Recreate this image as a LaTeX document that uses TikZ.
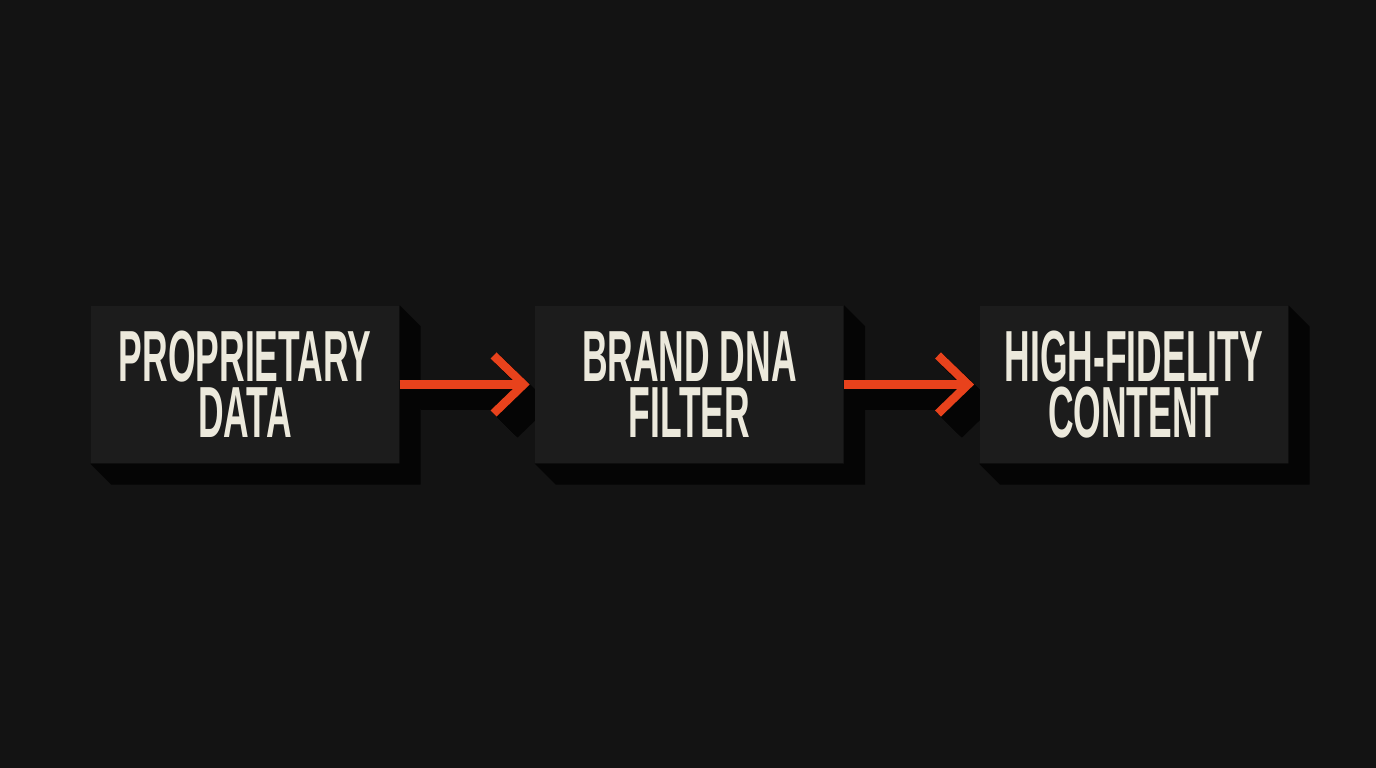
\documentclass[tikz,border=0pt]{standalone}
\usepackage{fontspec}
\usetikzlibrary{positioning,arrows.meta}
\newfontfamily\boxfont[FakeStretch=0.49]{Liberation Sans}
\definecolor{bgblack}{HTML}{131313}
\definecolor{boxgray}{HTML}{1C1C1C}
\definecolor{depthblack}{HTML}{050505}
\definecolor{cream}{HTML}{ECE9DC}
\definecolor{flowred}{HTML}{E8421C}
\pgfdeclarelayer{bg}
\pgfdeclarelayer{depth}
\pgfsetlayers{bg,depth,main}
\tikzset{
  stage/.style={fill=boxgray,text=cream,minimum width=3.08cm,minimum height=1.57cm,
    inner sep=0pt,align=center,font=\boxfont\bfseries\fontsize{20.6}{16}\selectfont},
  flow/.style={draw=flowred,line width=0.085cm,-{Straight Barb[length=0.3cm,width=0.58cm]},shorten >=0.05cm},
}

\begin{document}
\begin{tikzpicture}
    % fundo
    \useasboundingbox (0,0) rectangle (13.76,7.68);
    \begin{pgfonlayer}{bg}
      \fill[bgblack] (0,0) rectangle (13.76,7.68);
    \end{pgfonlayer}

    % caixas
    \node[stage] (data) at (2.45,3.835) {PROPRIETARY\\DATA};
    \node[stage,right=1.35cm of data] (dna) {BRAND DNA\\FILTER};
    \node[stage,right=1.35cm of dna] (content) {HIGH-FIDELITY\\CONTENT};

    % setas
    \draw[flow] (data) -- (dna);
    \draw[flow] (dna) -- (content);

    % sombras
    \begin{pgfonlayer}{depth}
      \foreach \b in {data,dna,content}
        \fill[depthblack] (\b.north east) -- ++(0.21,-0.21) -- ([shift={(0.21,-0.21)}]\b.south east)
          -- ([shift={(0.21,-0.21)}]\b.south west) -- (\b.south west) -- (\b.south east) -- cycle;
      \foreach \d in {1,...,21} {
        \draw[flow,draw=depthblack] ([shift={(\d*0.01,-\d*0.01)}]data.east) -- ([shift={(\d*0.01,-\d*0.01)}]dna.west);
        \draw[flow,draw=depthblack] ([shift={(\d*0.01,-\d*0.01)}]dna.east) -- ([shift={(\d*0.01,-\d*0.01)}]content.west);
      }
    \end{pgfonlayer}
\end{tikzpicture}
\end{document}
